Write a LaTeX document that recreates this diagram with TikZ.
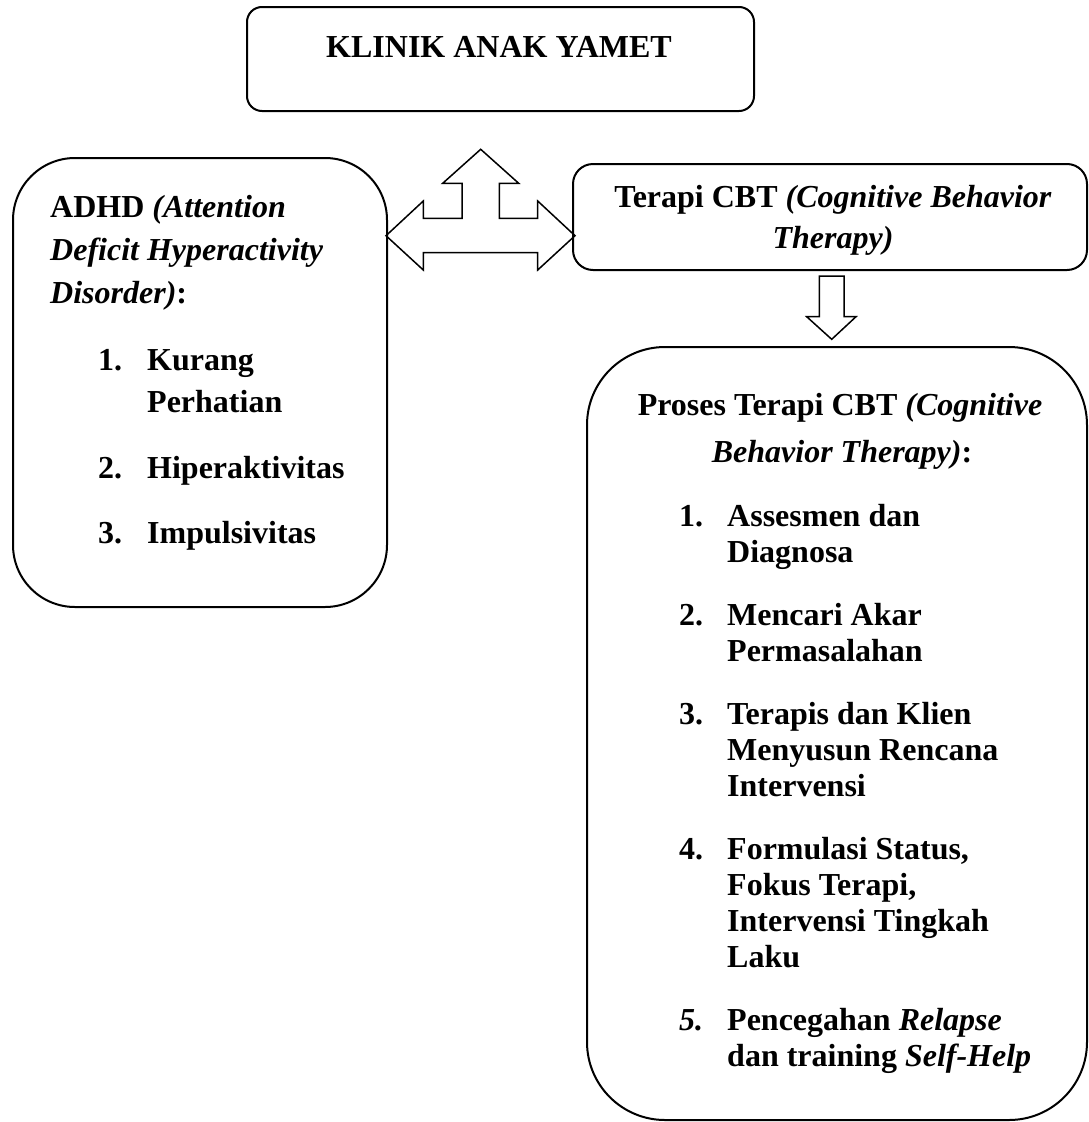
\documentclass[tikz,border=0pt]{standalone}
\usepackage{fontspec}
\setmainfont{Liberation Serif}

\begin{document}
\begin{tikzpicture}[x=1pt, y=-1pt,
    box/.style={draw, line width=2pt},
    blockarrow/.style={draw, line width=1.5pt, line join=miter},
    txt/.style={font=\fontsize{32}{36}\selectfont\bfseries, inner sep=0pt}]

    \useasboundingbox (0,0) rectangle (1089,1122);

    % Three-way arrow between the boxes
    \draw[blockarrow] (480.7,149.3) -- (518.7,183.3) -- (499.3,183.3) -- (499.3,218.3)
      -- (537.7,218.3) -- (537.7,201) -- (575,235.7) -- (537.7,270) -- (537.7,252.7)
      -- (423.3,252.7) -- (423.3,270) -- (386,235.7) -- (423.3,201) -- (423.3,218.3)
      -- (462,218.3) -- (462,183.3) -- (442.7,183.3) -- cycle;

    % Down arrow to the process box
    \draw[blockarrow] (819.3,276) -- (844,276) -- (844,316.7) -- (856,316.7)
      -- (831.7,339.3) -- (806.7,316.7) -- (819.3,316.7) -- cycle;

    % Draw the boxes
    \draw[box, rounded corners=15pt] (247,7) rectangle (754,111);
    \draw[box, rounded corners=62pt] (13,158) rectangle (387,607);
    \draw[box, rounded corners=20pt] (573,164) rectangle (1087,270);
    \draw[box, rounded corners=78pt] (587,347) rectangle (1087,1120);

    % Title
    \node[txt, anchor=base] (klinik) at (499,57) {KLINIK ANAK YAMET};

    % ADHD box
    \node[txt, anchor=base west] (adhd1) at (50,217) {ADHD \textit{(Attention}};
    \node[txt, anchor=base west] (adhd2) at (50,260) {\textit{Deficit Hyperactivity}};
    \node[txt, anchor=base west] (adhd3) at (50,303) {\textit{Disorder)}:};
    \foreach \n/\y [count=\i] in {1./370, 2./478, 3./543}
      \node[txt, anchor=base west] (lnum\i) at (98,\y) {\n};
    \foreach \t/\y [count=\i] in {Kurang/370, Perhatian/412, Hiperaktivitas/478, Impulsivitas/543}
      \node[txt, anchor=base west] (litem\i) at (147,\y) {\t};

    % CBT box
    \node[txt, anchor=base] (cbt1) at (833,207) {Terapi CBT \textit{(Cognitive Behavior}};
    \node[txt, anchor=base] (cbt2) at (833,248) {\textit{Therapy)}};

    % Process box
    \node[txt, anchor=base] (proses1) at (840,415) {Proses Terapi CBT \textit{(Cognitive}};
    \node[txt, anchor=base] (proses2) at (842,462) {\textit{Behavior Therapy)}:};
    \foreach \n/\y [count=\i] in {1./526, 2./625, 3./724, 4./859, {\textit{5.}}/1030}
      \node[txt, anchor=base west] (rnum\i) at (679,\y) {\n};
    \foreach \t/\y [count=\i] in {Assesmen dan/526, Diagnosa/562, Mencari Akar/625,
        Permasalahan/661, Terapis dan Klien/724, Menyusun Rencana/760, Intervensi/796,
        {Formulasi Status,}/859, {Fokus Terapi,}/895, Intervensi Tingkah/931, Laku/967,
        {Pencegahan \textit{Relapse}}/1030, {dan training \textit{Self-Help}}/1066}
      \node[txt, anchor=base west] (ritem\i) at (727,\y) {\t};

\end{tikzpicture}
\end{document}
